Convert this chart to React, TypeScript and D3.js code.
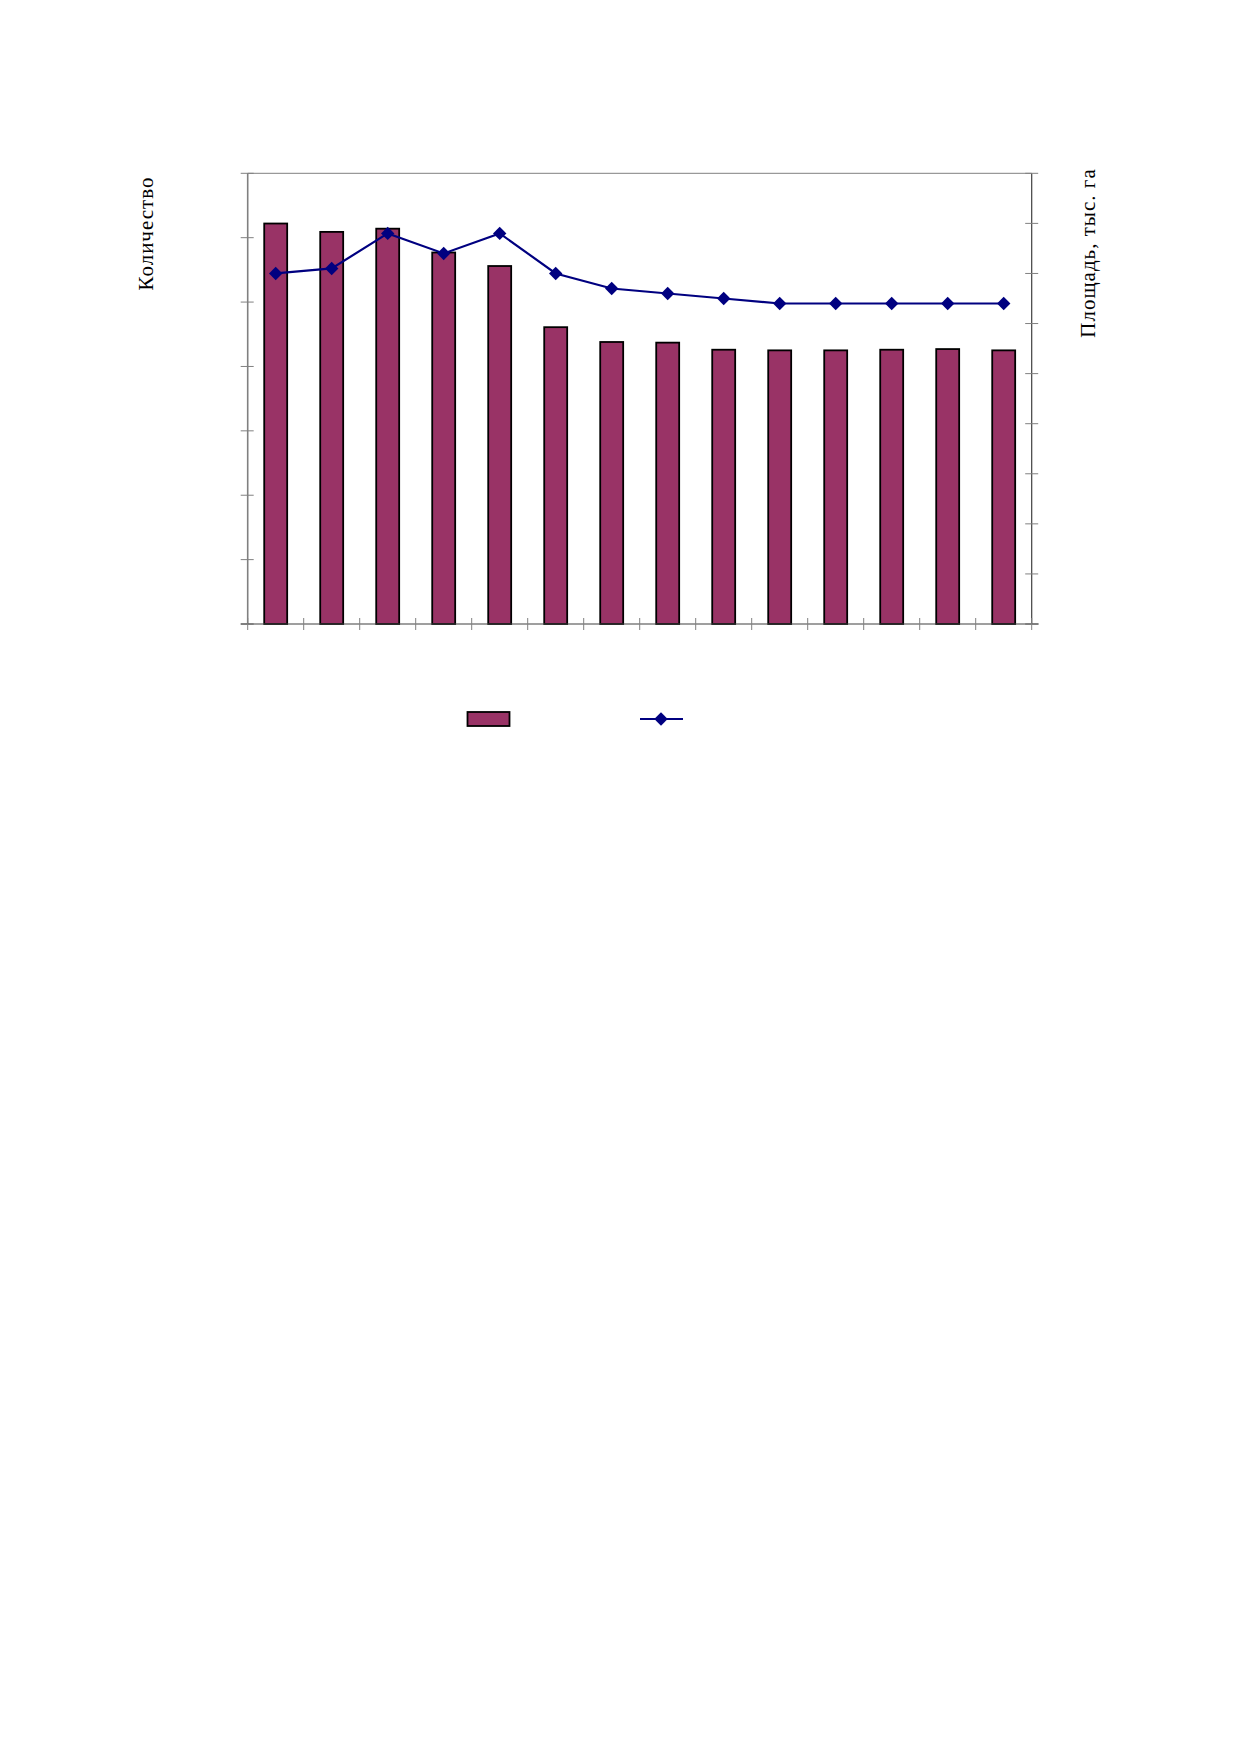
import React, { useEffect, useRef } from "react";
import * as d3 from "d3";

// 14 periods, no labels printed on the original chart
const categories = [
  "1", "2", "3", "4", "5", "6", "7", "8", "9", "10", "11", "12", "13", "14",
];
// bars: количество (left axis)
const countValues = [622, 609, 614, 577, 556, 461, 438, 437, 426, 425, 425, 426, 427, 425];
// line: площадь, тыс. га (right axis)
const areaValues = [70, 71, 78, 74, 78, 70, 67, 66, 65, 64, 64, 64, 64, 64];
const leftTicks = [0, 100, 200, 300, 400, 500, 600, 700];
const rightTicks = [0, 10, 20, 30, 40, 50, 60, 70, 80, 90];

const WIDTH = 1239;
const HEIGHT = 1754;

const App: React.FC = () => {
  const svgRef = useRef<SVGSVGElement>(null);

  useEffect(() => {
    if (!svgRef.current) return;
    const svg = d3.select(svgRef.current);
    svg.selectAll("*").remove();

    const plot = { left: 247.7, right: 1031.7, top: 173.3, bottom: 624 };

    const x = d3
      .scaleBand<string>()
      .domain(categories)
      .range([plot.left, plot.right])
      .paddingInner(0)
      .paddingOuter(0);
    const yLeft = d3
      .scaleLinear()
      .domain([0, 700])
      .range([plot.bottom, plot.top]);
    const yRight = d3
      .scaleLinear()
      .domain([0, 90])
      .range([plot.bottom, plot.top]);

    const barW = x.bandwidth() * 0.41;

    // top border
    svg
      .append("line")
      .attr("x1", plot.left)
      .attr("x2", plot.right)
      .attr("y1", plot.top)
      .attr("y2", plot.top)
      .attr("stroke", "#808080")
      .attr("stroke-width", 1);

    // bars
    svg
      .append("g")
      .selectAll("rect")
      .data(countValues)
      .enter()
      .append("rect")
      .attr("x", (_d, i) => x(categories[i])! + (x.bandwidth() - barW) / 2)
      .attr("width", barW)
      .attr("y", (d) => yLeft(d))
      .attr("height", (d) => plot.bottom - yLeft(d))
      .attr("fill", "#993366")
      .attr("stroke", "#000")
      .attr("stroke-width", 1.8);

    // left axis
    svg
      .append("line")
      .attr("x1", plot.left)
      .attr("x2", plot.left)
      .attr("y1", plot.top)
      .attr("y2", plot.bottom)
      .attr("stroke", "#808080")
      .attr("stroke-width", 1.6);
    svg
      .append("g")
      .selectAll("line")
      .data(leftTicks)
      .enter()
      .append("line")
      .attr("x1", plot.left - 7)
      .attr("x2", plot.left + 6)
      .attr("y1", (d) => yLeft(d))
      .attr("y2", (d) => yLeft(d))
      .attr("stroke", "#808080")
      .attr("stroke-width", 1);

    // right axis
    svg
      .append("line")
      .attr("x1", plot.right)
      .attr("x2", plot.right)
      .attr("y1", plot.top)
      .attr("y2", plot.bottom)
      .attr("stroke", "#404040")
      .attr("stroke-width", 1.2);
    svg
      .append("g")
      .selectAll("line")
      .data(rightTicks)
      .enter()
      .append("line")
      .attr("x1", plot.right - 6.5)
      .attr("x2", plot.right + 6.5)
      .attr("y1", (d) => yRight(d))
      .attr("y2", (d) => yRight(d))
      .attr("stroke", "#808080")
      .attr("stroke-width", 1);

    // bottom axis
    svg
      .append("line")
      .attr("x1", plot.left - 7)
      .attr("x2", plot.right + 7)
      .attr("y1", plot.bottom)
      .attr("y2", plot.bottom)
      .attr("stroke", "#404040")
      .attr("stroke-width", 1.2);
    const xTicks = categories.map((c) => x(c)!).concat([plot.right]);
    svg
      .append("g")
      .selectAll("line")
      .data(xTicks)
      .enter()
      .append("line")
      .attr("x1", (d) => d)
      .attr("x2", (d) => d)
      .attr("y1", plot.bottom - 6)
      .attr("y2", plot.bottom + 6)
      .attr("stroke", "#808080")
      .attr("stroke-width", 1);

    // line series
    const line = d3
      .line<number>()
      .x((_d, i) => x(categories[i])! + x.bandwidth() / 2)
      .y((d) => yRight(d));
    svg
      .append("path")
      .datum(areaValues)
      .attr("d", line)
      .attr("fill", "none")
      .attr("stroke", "#000080")
      .attr("stroke-width", 2.2);

    const diamond = d3.symbol().type(d3.symbolSquare).size(90);
    svg
      .append("g")
      .selectAll("path")
      .data(areaValues)
      .enter()
      .append("path")
      .attr("d", diamond)
      .attr(
        "transform",
        (d, i) =>
          `translate(${x(categories[i])! + x.bandwidth() / 2},${yRight(d)}) rotate(45)`,
      )
      .attr("fill", "#000080");

    // axis titles
    svg
      .append("text")
      .attr("transform", `translate(153,233.5) rotate(-90)`)
      .attr("text-anchor", "middle")
      .style("font-family", "'Liberation Serif', 'Times New Roman', serif")
      .style("font-size", "21px")
      .style("letter-spacing", "1px")
      .style("fill", "#000")
      .text("Количество");
    svg
      .append("text")
      .attr("transform", `translate(1095,253) rotate(-90)`)
      .attr("text-anchor", "middle")
      .style("font-family", "'Liberation Serif', 'Times New Roman', serif")
      .style("font-size", "21px")
      .style("letter-spacing", "1px")
      .style("fill", "#000")
      .text("Площадь, тыс. га");

    // legend (symbols only, as in the original)
    const legend = svg.append("g");
    legend
      .append("rect")
      .attr("x", 467.5)
      .attr("y", 712)
      .attr("width", 42)
      .attr("height", 14)
      .attr("fill", "#993366")
      .attr("stroke", "#000")
      .attr("stroke-width", 1.8);
    legend
      .append("line")
      .attr("x1", 640)
      .attr("x2", 683)
      .attr("y1", 719)
      .attr("y2", 719)
      .attr("stroke", "#000080")
      .attr("stroke-width", 2.2);
    legend
      .append("path")
      .attr("d", diamond)
      .attr("transform", "translate(661,719) rotate(45)")
      .attr("fill", "#000080");
  }, []);

  return (
    <svg
      ref={svgRef}
      width={WIDTH}
      height={HEIGHT}
      style={{ position: "absolute", left: 0, top: 0, background: "#fff" }}
    />
  );
};

export default App;
